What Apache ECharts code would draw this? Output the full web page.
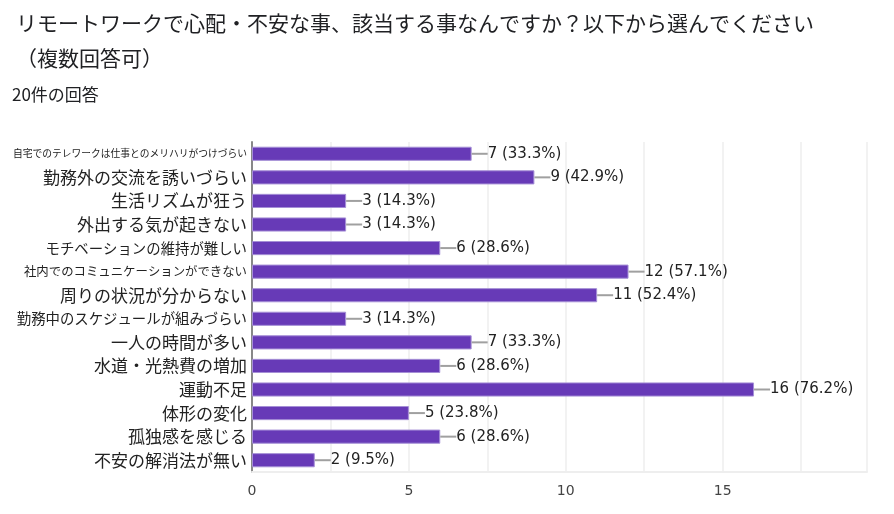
<!DOCTYPE html>
<html>
<head>
<meta charset="utf-8">
<script src="https://cdn.jsdelivr.net/npm/echarts@6/dist/echarts.min.js"></script>
<style>
  html, body { margin: 0; padding: 0; background: #fff; }
  #chart { width: 894px; height: 514px; }
</style>
</head>
<body>
<div id="chart"></div>
<script>
var categories = [
  '自宅でのテレワークは仕事とのメリハリがつけづらい',
  '勤務外の交流を誘いづらい',
  '生活リズムが狂う',
  '外出する気が起きない',
  'モチベーションの維持が難しい',
  '社内でのコミュニケーションができない',
  '周りの状況が分からない',
  '勤務中のスケジュールが組みづらい',
  '一人の時間が多い',
  '水道・光熱費の増加',
  '運動不足',
  '体形の変化',
  '孤独感を感じる',
  '不安の解消法が無い'
];
var counts = [7, 9, 3, 3, 6, 12, 11, 3, 7, 6, 16, 5, 6, 2];
var percents = ['33.3', '42.9', '14.3', '14.3', '28.6', '57.1', '52.4', '14.3', '33.3', '28.6', '76.2', '23.8', '28.6', '9.5'];

var font = '"Noto Sans CJK JP", "Noto Sans", sans-serif';
var numFont = '"DejaVu Sans", sans-serif';

// google shrinks the long labels so they fit left of the axis
function labelSize(txt) {
  if (txt.length <= 12) return 17;
  if (txt.length <= 16) return 14.4;
  return Math.min(12.4, 234 / txt.length);
}

var rich = {};
categories.forEach(function (c, i) {
  rich['c' + i] = { fontSize: labelSize(c), color: '#222', fontFamily: font };
});

var myChart = echarts.init(document.getElementById('chart'));

var option = {
  animation: false,
  textStyle: { fontFamily: font },
  title: [
    {
      text: 'リモートワークで心配・不安な事、該当する事なんですか？以下から選んでください\n（複数回答可）',
      left: 11, top: 1,
      textStyle: { fontSize: 21, fontWeight: 'normal', color: '#202124', lineHeight: 35, fontFamily: font }
    },
    {
      text: '20件の回答',
      left: 7, top: 81,
      textStyle: { fontSize: 17, fontWeight: 'normal', color: '#202124', fontFamily: font }
    }
  ],
  grid: { left: 252, right: 27, top: 142, bottom: 42, containLabel: false },
  xAxis: {
    type: 'value',
    min: 0,
    max: 19.6,
    interval: 2.5,
    axisLine: { show: true, lineStyle: { color: '#eeeeee', width: 2 } },
    axisTick: { show: false },
    splitLine: { show: true, lineStyle: { color: '#eeeeee', width: 1.5 } },
    axisLabel: {
      color: '#444', fontSize: 14, margin: 12, showMaxLabel: false, fontFamily: numFont,
      formatter: function (v) { return v % 5 === 0 ? String(v) : ''; }
    }
  },
  yAxis: {
    type: 'category',
    data: categories,
    inverse: true,
    axisLine: { show: true, lineStyle: { color: '#888', width: 2 } },
    axisTick: { show: false },
    axisLabel: {
      color: '#222', margin: 5,
      formatter: function (v) {
        return '{c' + categories.indexOf(v) + '|' + v + '}';
      },
      rich: rich
    }
  },
  series: [
    {
      type: 'bar',
      data: counts,
      barWidth: '60%',
      itemStyle: { color: '#673ab7', borderColor: '#a58fd6', borderWidth: 1 },
      label: {
        show: true,
        position: 'right',
        distance: 0,
        formatter: function (p) {
          return '{l|}{t|' + counts[p.dataIndex] + ' (' + percents[p.dataIndex] + '%)}';
        },
        rich: {
          l: { width: 16, height: 2, backgroundColor: '#a0a0a0' },
          t: { fontSize: 15, color: '#222', fontFamily: numFont }
        }
      }
    }
  ]
};
myChart.setOption(option);
</script>
</body>
</html>
